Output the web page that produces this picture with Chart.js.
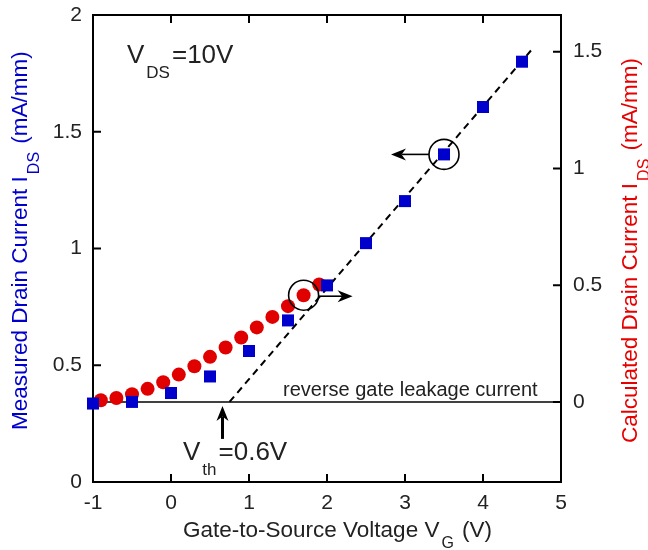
<!DOCTYPE html>
<html>
<head>
<meta charset="utf-8">
<script src="https://cdn.jsdelivr.net/npm/chart.js@4.4.1/dist/chart.umd.min.js"></script>
<style>
body{margin:0;background:#fff;}
#grafico{display:block;}
</style>
</head>
<body>
<canvas id="grafico" width="648" height="550"></canvas>
<script>
// datos
const vgMedido = [-1, -0.5, 0, 0.5, 1, 1.5, 2, 2.5, 3, 3.5, 4, 4.5];
const idsMedido = [0.336, 0.343, 0.381, 0.452, 0.561, 0.692, 0.842, 1.023, 1.203, 1.403, 1.606, 1.80];
const vgCalculado = [-0.9, -0.7, -0.5, -0.3, -0.1, 0.1, 0.3, 0.5, 0.7, 0.9, 1.1, 1.3, 1.5, 1.7, 1.9];
const idsCalculado = [0.007, 0.017, 0.033, 0.056, 0.084, 0.117, 0.153, 0.193, 0.233, 0.276, 0.319, 0.364, 0.410, 0.457, 0.503];
const fuga = 0.343;              // corriente de fuga (eje izq), cero del eje derecho
const rectaVthX = [0.75, 4.62];
const rectaVthY = [0.343, 1.85];
const ticksX = [-1, 0, 1, 2, 3, 4, 5];
const ticksIzq = [0, 0.5, 1, 1.5, 2];
const ticksDer = [0, 0.5, 1, 1.5];

const familia = '"Liberation Sans", Arial, sans-serif';
const gris = '#222';

function puntos(xs, ys){
    return xs.map((x, i) => ({x: x, y: ys[i]}));
}

function textoCompuesto(ctx, partes, x, y, tam, tamSub, bajada, gap){
    let cx = x;
    partes.forEach(p => {
        ctx.font = (p.sub ? tamSub : tam) + 'px ' + familia;
        ctx.fillText(p.t, cx, p.sub ? y + bajada : y);
        cx += ctx.measureText(p.t).width + gap;
    });
}

function flecha(ctx, x1, y1, x2, y2, largo, ancho){
    const ang = Math.atan2(y2 - y1, x2 - x1);
    ctx.beginPath();
    ctx.moveTo(x1, y1);
    ctx.lineTo(x2 - largo * 0.7 * Math.cos(ang), y2 - largo * 0.7 * Math.sin(ang));
    ctx.stroke();
    ctx.save();
    ctx.translate(x2, y2);
    ctx.rotate(ang);
    ctx.beginPath();
    ctx.moveTo(0, 0);
    ctx.lineTo(-largo, -ancho);
    ctx.lineTo(-largo * 0.7, 0);
    ctx.lineTo(-largo, ancho);
    ctx.closePath();
    ctx.fill();
    ctx.restore();
}

const anotaciones = {
    id: 'anotaciones',
    beforeDatasetsDraw(chart){
        const {ctx, chartArea: a, scales} = chart;
        ctx.save();
        ctx.strokeStyle = '#000';
        ctx.lineWidth = 2;
        ctx.strokeRect(a.left, a.top, a.right - a.left, a.bottom - a.top);
        ctx.beginPath();
        ticksX.forEach(v => {
            const px = scales.x.getPixelForValue(v);
            ctx.moveTo(px, a.bottom); ctx.lineTo(px, a.bottom - 8);
            ctx.moveTo(px, a.top); ctx.lineTo(px, a.top + 8);
        });
        ticksIzq.forEach(v => {
            const py = scales.y.getPixelForValue(v);
            ctx.moveTo(a.left, py); ctx.lineTo(a.left + 8, py);
        });
        ticksDer.forEach(v => {
            const py = scales.y2.getPixelForValue(v);
            ctx.moveTo(a.right, py); ctx.lineTo(a.right - 8, py);
        });
        ctx.stroke();
        ctx.restore();
    },
    afterDatasetsDraw(chart){
        const {ctx, scales} = chart;
        const sx = scales.x, sy = scales.y, sy2 = scales.y2;
        ctx.save();
        ctx.strokeStyle = '#000';
        ctx.fillStyle = '#000';
        ctx.lineWidth = 1.6;

        // circulo y flecha del punto medido
        let px = sx.getPixelForValue(vgMedido[9]);
        let py = sy.getPixelForValue(idsMedido[9]);
        ctx.beginPath();
        ctx.arc(px, py, 15, 0, Math.PI * 2);
        ctx.stroke();
        flecha(ctx, px - 15, py, px - 53, py, 15, 6);

        // circulo y flecha del punto calculado
        px = sx.getPixelForValue(vgCalculado[13]);
        py = sy2.getPixelForValue(idsCalculado[13]);
        ctx.beginPath();
        ctx.arc(px, py, 15, 0, Math.PI * 2);
        ctx.stroke();
        flecha(ctx, px + 15, py + 1, px + 49, py + 1, 15, 6);

        // flecha de Vth
        const yFuga = sy.getPixelForValue(fuga);
        const xVth = sx.getPixelForValue(0.66);
        ctx.lineWidth = 3;
        flecha(ctx, xVth, yFuga + 37, xVth, yFuga + 4, 15, 6);

        // textos
        ctx.fillStyle = gris;
        ctx.textBaseline = 'alphabetic';
        ctx.textAlign = 'left';
        textoCompuesto(ctx, [{t: 'V'}, {t: 'DS', sub: true}, {t: '=10V'}], 127, 63, 26, 17, 15, 2);
        textoCompuesto(ctx, [{t: 'V'}, {t: 'th', sub: true}, {t: '=0.6V'}], 183, 460, 26, 17, 15, 2);
        ctx.font = '20px ' + familia;
        ctx.fillText('reverse gate leakage current', 283, 396);

        // titulos de ejes
        textoCompuesto(ctx, [{t: 'Gate-to-Source Voltage V'}, {t: 'G', sub: true}, {t: ' (V)'}], 183, 537, 22.5, 16, 11, 2);

        ctx.save();
        ctx.fillStyle = '#0000cc';
        ctx.translate(27, 430);
        ctx.rotate(-Math.PI / 2);
        textoCompuesto(ctx, [{t: 'Measured Drain Current I'}, {t: 'DS', sub: true}, {t: ' (mA/mm)'}], 0, 0, 22.5, 16, 12, 2);
        ctx.restore();

        ctx.save();
        ctx.fillStyle = '#e60000';
        ctx.translate(637, 443);
        ctx.rotate(-Math.PI / 2);
        textoCompuesto(ctx, [{t: 'Calculated Drain Current I'}, {t: 'DS', sub: true}, {t: ' (mA/mm)'}], 0, 0, 22.5, 16, 12, 2);
        ctx.restore();

        ctx.restore();
    }
};

function sinRelleno(s){
    s.paddingTop = 0;
    s.paddingBottom = 0;
    s.paddingLeft = 0;
    s.paddingRight = 0;
}

Chart.defaults.font.family = familia;

const ctx = document.getElementById('grafico');
const myChart = new Chart(ctx, {
    type: 'scatter',
    data: {
        datasets: [{
            label: 'Measured',
            data: puntos(vgMedido, idsMedido),
            yAxisID: 'y',
            pointStyle: 'rect',
            pointRadius: 8.5,
            backgroundColor: '#0000cd',
            borderWidth: 0,
            clip: false,
            order: 0
        }, {
            label: 'Calculated',
            data: puntos(vgCalculado, idsCalculado),
            yAxisID: 'y2',
            pointStyle: 'circle',
            pointRadius: 7,
            backgroundColor: '#e00000',
            borderWidth: 0,
            clip: false,
            order: 1
        }, {
            label: 'Vth',
            data: puntos(rectaVthX, rectaVthY),
            yAxisID: 'y',
            showLine: true,
            borderColor: '#000',
            borderWidth: 2,
            borderDash: [7, 5],
            pointRadius: 0,
            order: 2
        }, {
            label: 'fuga',
            data: puntos([-1, 5], [fuga, fuga]),
            yAxisID: 'y',
            showLine: true,
            borderColor: '#000',
            borderWidth: 1.5,
            pointRadius: 0,
            order: 3
        }]
    },
    options: {
        responsive: false,
        animation: false,
        layout: { padding: { top: 15, left: 0, right: 0, bottom: 0 } },
        plugins: {
            legend: { display: false },
            tooltip: { enabled: false }
        },
        scales: {
            x: {
                type: 'linear',
                min: -1,
                max: 5,
                afterBuildTicks: s => { s.ticks = ticksX.map(v => ({value: v})); },
                afterFit: s => { s.height = 68; sinRelleno(s); },
                grid: { display: false, drawTicks: false },
                border: { display: false },
                ticks: { color: gris, font: { size: 21 }, padding: 9, maxRotation: 0, callback: v => String(v) }
            },
            y: {
                position: 'left',
                min: 0,
                max: 2,
                afterBuildTicks: s => { s.ticks = ticksIzq.map(v => ({value: v})); },
                afterFit: s => { s.width = 93; sinRelleno(s); },
                grid: { display: false, drawTicks: false },
                border: { display: false },
                ticks: { color: gris, font: { size: 21 }, padding: 11, callback: v => String(v) }
            },
            y2: {
                position: 'right',
                min: -fuga,
                max: 2 - fuga,
                afterBuildTicks: s => { s.ticks = ticksDer.map(v => ({value: v})); },
                afterFit: s => { s.width = 87; sinRelleno(s); },
                grid: { display: false, drawTicks: false },
                border: { display: false },
                ticks: { color: gris, font: { size: 21 }, padding: 12, callback: v => String(v) }
            }
        }
    },
    plugins: [anotaciones]
});
</script>
</body>
</html>
